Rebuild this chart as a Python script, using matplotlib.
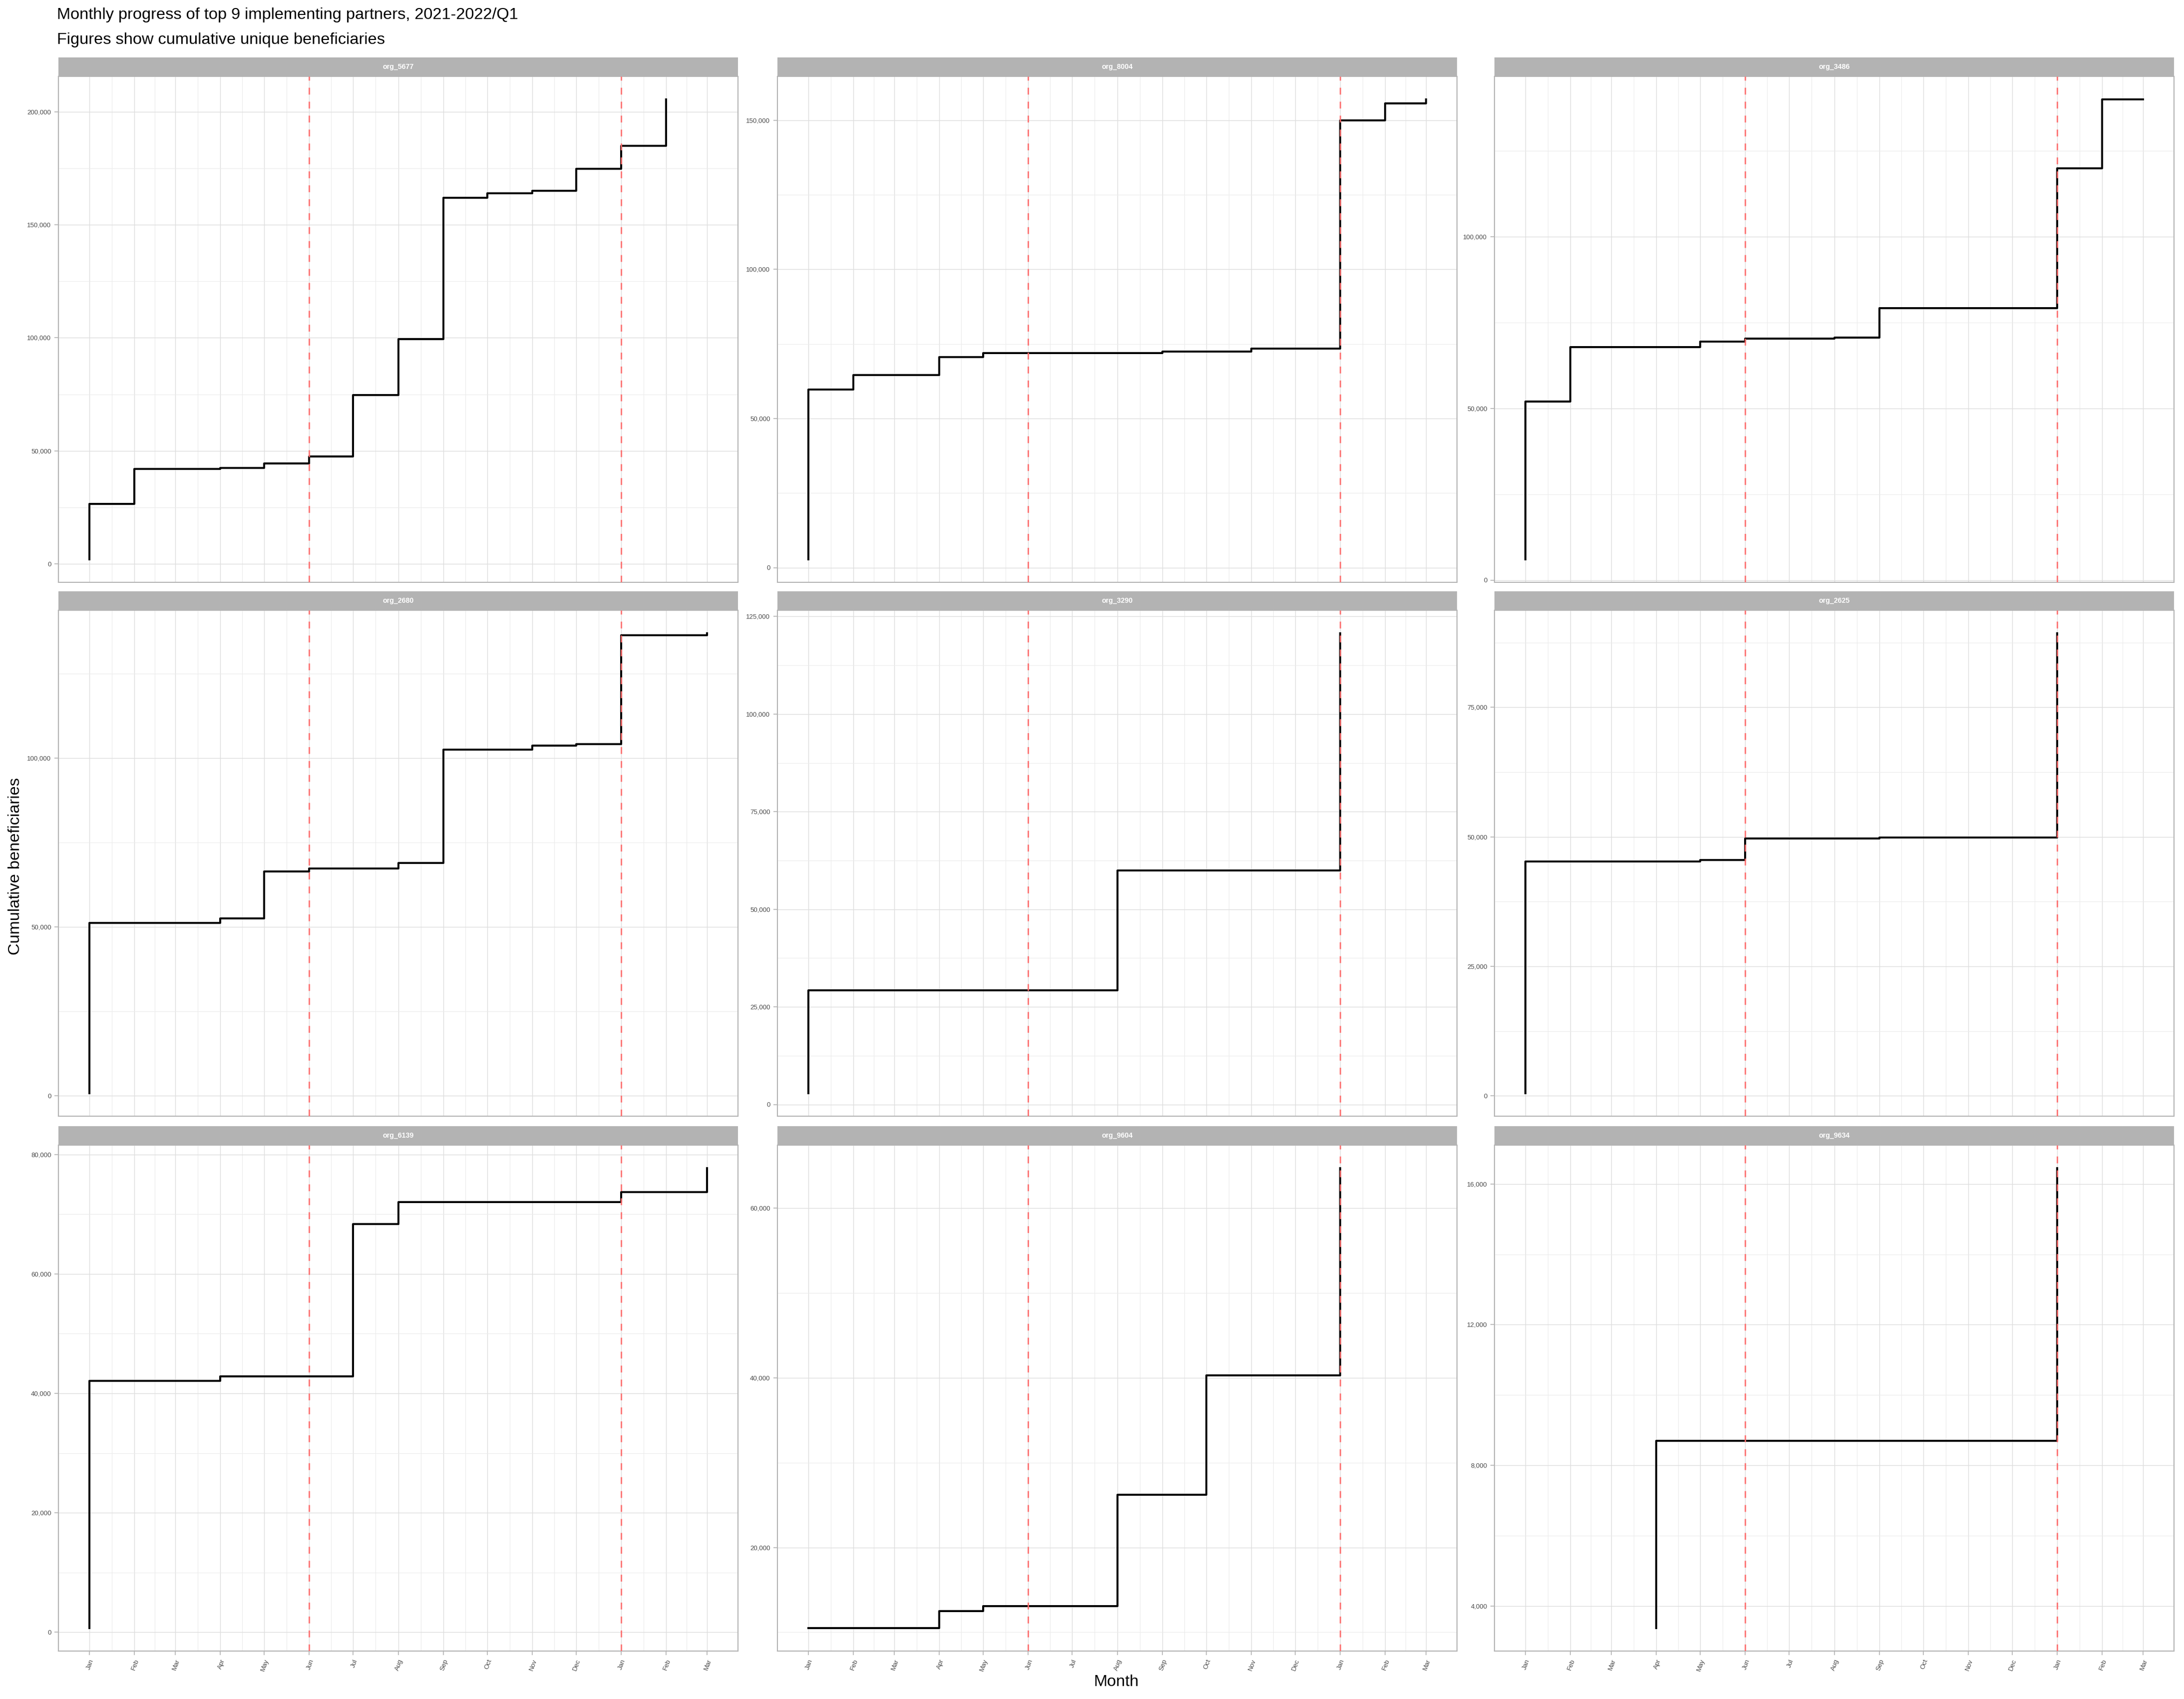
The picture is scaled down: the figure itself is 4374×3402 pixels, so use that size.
import numpy as np
import pandas as pd
import matplotlib
matplotlib.use("Agg")
import matplotlib.pyplot as plt
import matplotlib.dates as mdates
from matplotlib.ticker import MultipleLocator, FuncFormatter, FixedLocator

plt.rcParams['font.family'] = ['Liberation Sans', 'DejaVu Sans']
plt.rcParams['lines.scale_dashes'] = False

# partners, in facet order
orgs = ["org_5677", "org_8004", "org_3486",
        "org_2680", "org_3290", "org_2625",
        "org_6139", "org_9604", "org_9634"]

# first month of each series and the count just before the first jump (None = no jump)
first_month = ["2021-01", "2021-01", "2021-01",
               "2021-01", "2021-01", "2021-01",
               "2021-01", "2021-01", "2021-04"]
start_value = [2000, 2800, 6100, 800, 2900, 500, 700, None, 3370]

# cumulative unique beneficiaries, one value per month from first_month
cum_5677 = [26500, 42000, 42000, 42500, 44400, 47500, 74700, 99500, 162000,
            164000, 165000, 174700, 185000, 205500]
cum_8004 = [59800, 64500, 64500, 70600, 72000, 72000, 72000, 72000, 72500,
            72500, 73400, 73400, 150000, 155600, 157000]
cum_3486 = [52000, 67900, 67900, 67900, 69500, 70300, 70300, 70700, 79300,
            79300, 79300, 79300, 120000, 140000, 140000]
cum_2680 = [51200, 51200, 51200, 52500, 66500, 67400, 67400, 69000, 102500,
            102500, 103700, 104100, 136400, 136400, 137000]
cum_3290 = [29300, 29300, 29300, 29300, 29300, 29300, 29300, 60000, 60000,
            60000, 60000, 60000, 120700]
cum_2625 = [45200, 45200, 45200, 45200, 45500, 49700, 49700, 49700, 49900,
            49900, 49900, 49900, 89300]
cum_6139 = [42100, 42100, 42100, 42800, 42800, 42800, 68300, 72000, 72000,
            72000, 72000, 72000, 73700, 73700, 77700]
cum_9604 = [10500, 10500, 10500, 12500, 13100, 13100, 13100, 26200, 26200,
            40300, 40300, 40300, 64700]
cum_9634 = [8700, 8700, 8700, 8700, 8700, 8700, 8700, 8700, 8700, 16450]

series = [cum_5677, cum_8004, cum_3486, cum_2680, cum_3290, cum_2625,
          cum_6139, cum_9604, cum_9634]

# reference dates (start of period / start of 2022)
ref_dates = ["2021-06-01", "2022-01-01"]
y_steps = [50000, 50000, 50000, 50000, 25000, 25000, 20000, 20000, 4000]

W, H = 4374, 3402
fig = plt.figure(figsize=(W / 300, H / 300), dpi=300)

col_left = [117, 1557, 2993]
panel_w = 1361
row_top = [153, 1222, 2293]
panel_h = 1013
strip_h = 38

month_starts = pd.date_range("2021-01-01", "2022-03-01", freq="MS")
xnum = mdates.date2num(month_starts)
span = xnum[-1] - xnum[0]
xlim = (xnum[0] - 0.05 * span, xnum[-1] + 0.05 * span)
minor_x = (xnum[:-1] + xnum[1:]) / 2

grid_col = "#DEDEDE"
border_col = "#B3B3B3"

for i, org in enumerate(orgs):
    r, c = divmod(i, 3)
    left = col_left[c] / W
    bottom = 1 - (row_top[r] + panel_h) / H
    ax = fig.add_axes([left, bottom, panel_w / W, panel_h / H])

    vals = series[i]
    dates = list(pd.date_range(first_month[i] + "-01", periods=len(vals), freq="MS"))
    yv = list(vals)
    if start_value[i] is not None:
        dates = [dates[0]] + dates
        yv = [start_value[i]] + yv
    ax.step(dates, yv, where="post", color="black", lw=0.95, zorder=3)

    for d in ref_dates:
        ax.axvline(pd.Timestamp(d), color="#FF6B6B", alpha=0.9, lw=0.7,
                   linestyle=(0, (3.3, 3.4)), zorder=4)

    ax.set_xlim(xlim)
    ax.margins(y=0.05)
    ax.xaxis.set_major_locator(FixedLocator(xnum))
    ax.xaxis.set_minor_locator(FixedLocator(minor_x))
    ax.xaxis.set_major_formatter(mdates.DateFormatter("%b"))
    ax.yaxis.set_major_locator(MultipleLocator(y_steps[i]))
    ax.yaxis.set_minor_locator(MultipleLocator(y_steps[i] / 2))
    ax.yaxis.set_major_formatter(FuncFormatter(lambda v, p: f"{int(round(v)):,}"))

    ax.grid(which="major", color=grid_col, lw=0.35, zorder=0)
    ax.grid(which="minor", color="#EBEBEB", lw=0.25, zorder=0)
    ax.set_axisbelow(True)
    for s in ax.spines.values():
        s.set_color(border_col)
        s.set_linewidth(0.5)

    ax.tick_params(axis="both", which="major", length=2, width=0.4, color=border_col,
                   labelsize=3.2, labelcolor="#4D4D4D", pad=1.5)
    ax.tick_params(axis="both", which="minor", length=0)
    if r < 2:
        ax.tick_params(axis="x", which="major", length=0, labelbottom=False)
    else:
        for lab in ax.get_xticklabels():
            lab.set_rotation(70)
            lab.set_ha("right")
            lab.set_rotation_mode("anchor")

    # facet strip
    sax = fig.add_axes([left, 1 - row_top[r] / H, panel_w / W, strip_h / H])
    sax.set_facecolor(border_col)
    sax.set_xticks([])
    sax.set_yticks([])
    for s in sax.spines.values():
        s.set_visible(False)
    sax.text(0.5, 0.5, org, color="white", fontsize=3.4, fontweight="bold",
             ha="center", va="center", transform=sax.transAxes)

fig.text(114 / W, 1 - 30 / H, "Monthly progress of top 9 implementing partners, 2021-2022/Q1",
         fontsize=7.8, ha="left", va="center")
fig.text(114 / W, 1 - 80 / H, "Figures show cumulative unique beneficiaries",
         fontsize=7.8, ha="left", va="center")
fig.text(0.511, 1 - 3368 / H, "Month", fontsize=7.8, ha="center", va="center")
fig.text(31 / W, 0.49, "Cumulative beneficiaries", fontsize=7.8, rotation=90,
         ha="center", va="center")

fig.savefig("out.png", dpi=300, facecolor="white")
